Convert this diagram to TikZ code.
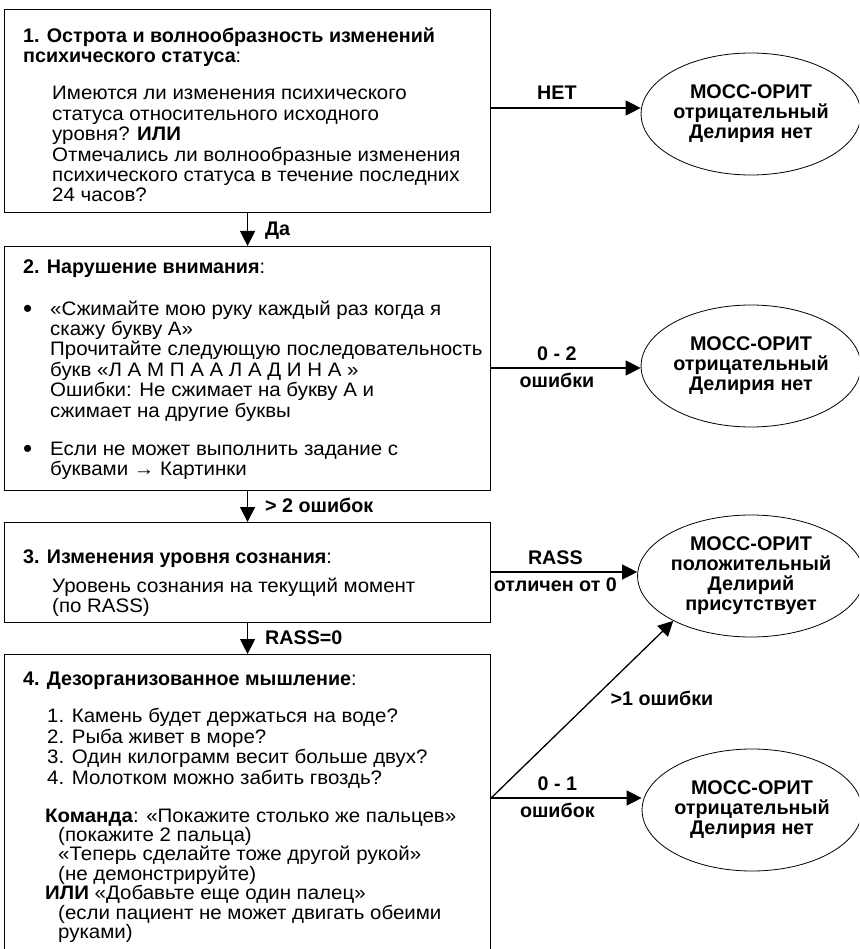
\documentclass[tikz,border=0pt]{standalone}
\usepackage{fontspec}
\setmainfont{Liberation Sans}
\newfontfamily\bodyfont[FakeStretch=1.05]{Liberation Sans}
\usetikzlibrary{arrows.meta,shapes.geometric,positioning}

\begin{document}
\begin{tikzpicture}[x=1pt, y=-1pt,
		box_style/.style={draw=black,line width=1.1pt,anchor=north west,inner sep=0pt,minimum width=486pt},
		end_style/.style={ellipse,draw=black,line width=0.8pt,minimum width=216pt,minimum height=122pt,inner sep=0pt,align=center,font=\bfseries\fontsize{19.8}{20}\selectfont},
		text_style/.style={anchor=base west,inner sep=0pt,align=left,font=\bodyfont\fontsize{19.5}{20.4}\selectfont},
		head_style/.style={anchor=base west,inner sep=0pt,align=left,font=\bfseries\fontsize{19.7}{20}\selectfont},
		dot_style/.style={anchor=base west,inner sep=0pt,font=\fontsize{26}{26}\selectfont},
		edge_style/.style={draw=black,line width=1.3pt,-{Triangle[length=15pt,width=15pt]}},
		lbl_style/.style={font=\bfseries\fontsize{19.7}{20}\selectfont,inner sep=0pt},
		lbl_above/.style={lbl_style,anchor=base,yshift=8pt},
		lbl_below/.style={lbl_style,anchor=base,yshift=-19pt},
		lbl_down/.style={lbl_style,anchor=base west,xshift=17pt,yshift=-6pt}]

		\useasboundingbox (0,0) rectangle (859,949);
		\clip (0,0) rectangle (859,949);

		% boxes
		\node[box_style,minimum height=203pt] (b1) at (4,9) {};
		\node[box_style,minimum height=244pt] (b2) at (4,246) {};
		\node[box_style,minimum height=100pt] (b3) at (4,522) {};
		\node[box_style,minimum height=320pt] (b4) at (4,654) {};

		% box texts (placed at the baseline of their last line)
		\node[head_style] (h1) at (23,63) {1. Острота и волнообразность изменений\\психического статуса{\mdseries:}};
		\node[text_style] (t1) at (52,202) {Имеются ли изменения психического\\статуса относительного исходного\\уровня? \textbf{ИЛИ}\\Отмечались ли волнообразные изменения\\психического статуса в течение последних\\24 часов?};

		\node[head_style] (h2) at (23,274) {2. Нарушение внимания{\mdseries:}};
		\node[dot_style] (p1) at (23,317) {•};
		\node[text_style] (t2) at (50,417) {«Сжимайте мою руку каждый раз когда я\\скажу букву А»\\Прочитайте следующую последовательность\\букв «Л А М П А А Л А Д И Н А »\\Ошибки: Не сжимает на букву А и\\сжимает на другие буквы};
		\node[dot_style] (p2) at (23,457) {•};
		\node[text_style] (t3) at (50,475.4) {Если не может выполнить задание с\\буквами → Картинки};

		\node[head_style] (h3) at (23,563) {3. Изменения уровня сознания{\mdseries:}};
		\node[text_style] (t4) at (52,612.4) {Уровень сознания на текущий момент\\(по RASS)};

		\node[head_style] (h4) at (23,685) {4. Дезорганизованное мышление{\mdseries:}};
		\node[text_style] (t5) at (47,784) {1. Камень будет держаться на воде?\\2. Рыба живет в море?\\3. Один килограмм весит больше двух?\\4. Молотком можно забить гвоздь?};
		\node[text_style,font=\bodyfont\fontsize{19.5}{19.4}\selectfont] (t6) at (45,938.4) {\textbf{Команда}: «Покажите столько же пальцев»\\\hspace*{13pt}(покажите 2 пальца)\\\hspace*{13pt}«Теперь сделайте тоже другой рукой»\\\hspace*{13pt}(не демонстрируйте)\\\textbf{ИЛИ} «Добавьте еще один палец»\\\hspace*{13pt}(если пациент не может двигать обеими\\\hspace*{13pt}руками)};

		% results
		\node[end_style] (e1) at (751,114) {МОСС-ОРИТ\\отрицательный\\Делирия нет};
		\node[end_style] (e2) at (751,366) {МОСС-ОРИТ\\отрицательный\\Делирия нет};
		\node[end_style] (e3) at (751,576) {МОСС-ОРИТ\\положительный\\Делирий\\присутствует};
		\node[end_style] (e4) at (752,810) {МОСС-ОРИТ\\отрицательный\\Делирия нет};

		\coordinate (fork) at (b4.east |- 0,798);

		% flow down
		\draw[edge_style] (b1.south) -- (b2.north) node[lbl_down,pos=0.5] {Да};
		\draw[edge_style] (b2.south) -- (b3.north) node[lbl_down,pos=0.5] {> 2 ошибок};
		\draw[edge_style] (b3.south) -- (b4.north) node[lbl_down,pos=0.5] {RASS=0};

		% flow right
		\draw[edge_style] (b1.east |- 0,108) -- (e1.west |- 0,108) node[lbl_above,pos=0.44] {НЕТ};
		\draw[edge_style] (b2.east |- 0,368) -- (e2.west |- 0,368) node[lbl_above,pos=0.44] {0 - 2} node[lbl_below,pos=0.44] {ошибки};
		\draw[edge_style] (b3.east |- 0,572) -- (e3.west |- 0,572) node[lbl_above,pos=0.44] {RASS} node[lbl_below,pos=0.44] {отличен от 0};
		\draw[edge_style] (fork) -- (e4.west |- 0,798) node[lbl_above,pos=0.44] {0 - 1} node[lbl_below,pos=0.44] {ошибок};
		\draw[edge_style] (fork) -- (e3.210) node[lbl_style,anchor=base west,pos=0.51,xshift=26pt,yshift=2pt] {>1 ошибки};

\end{tikzpicture}
\end{document}
